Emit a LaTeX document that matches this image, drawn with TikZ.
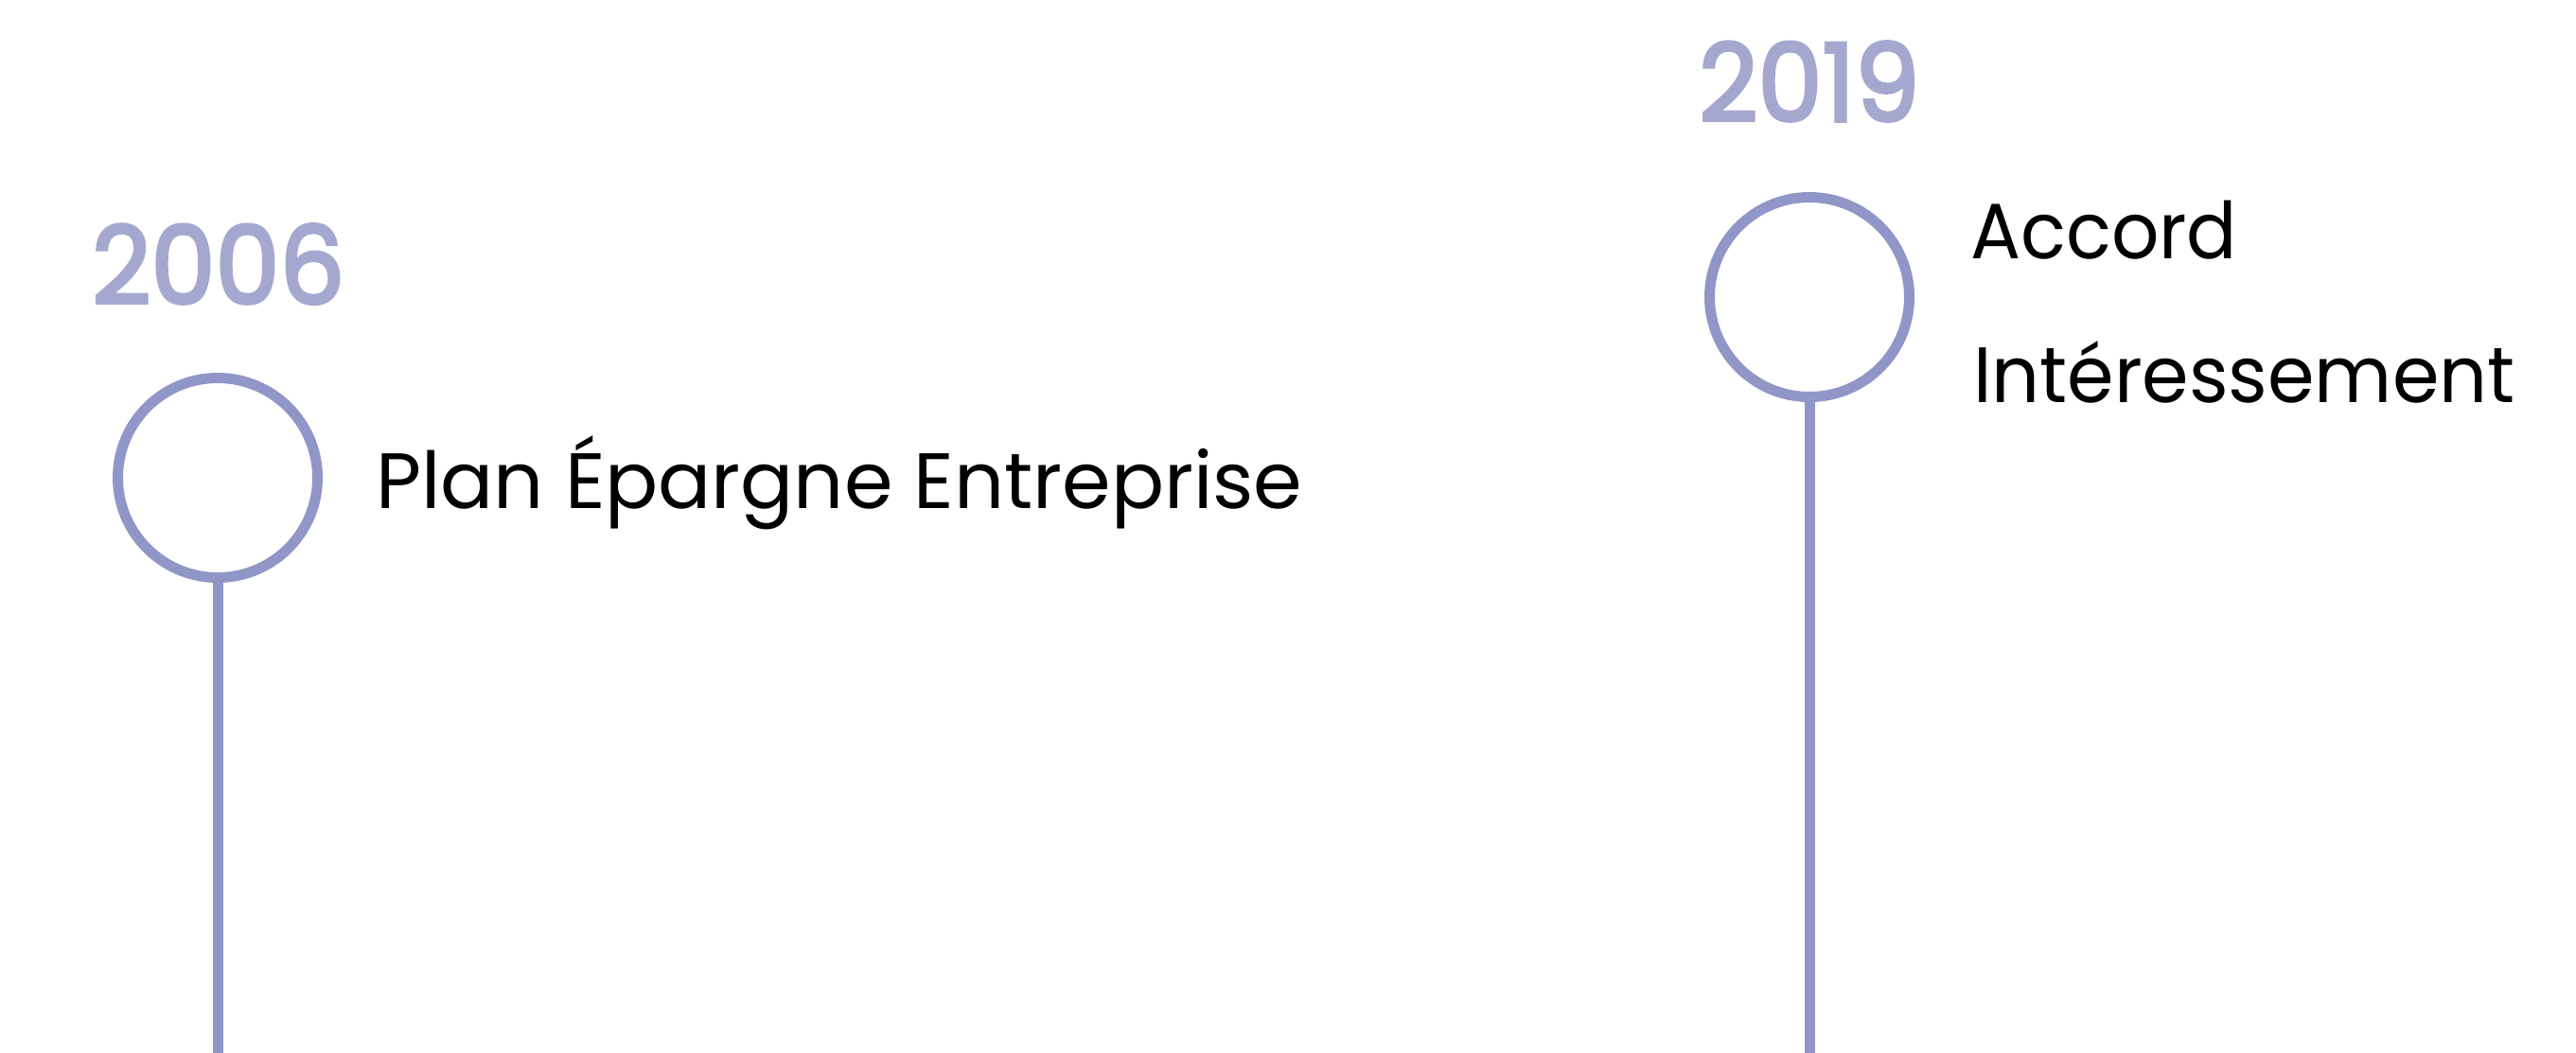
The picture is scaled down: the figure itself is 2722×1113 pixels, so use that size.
\documentclass[tikz,border=0pt]{standalone}
\usepackage{fontspec}
\setmainfont{Poppins}
\newfontfamily\yearfont{Poppins}[FakeBold=3.2]
\definecolor{ring}{HTML}{9196C8}
\definecolor{yearc}{HTML}{A5A8CE}
\begin{document}
\begin{tikzpicture}[x=1pt,y=-1pt,
  ringnode/.style={circle,draw=ring,line width=11pt,minimum size=211pt,inner sep=0pt,fill=white},
  stem/.style={draw=ring,line width=11pt},
  yeartext/.style={anchor=base west,inner sep=0pt,text=yearc,font=\fontsize{114}{130}\yearfont},
  labeltext/.style={anchor=base west,inner sep=0pt,text=black,font=\fontsize{83}{100}\selectfont}]
\useasboundingbox[fill=white] (0,0) rectangle (2722,1113);
\node[ringnode] (c1) at (230,505) {};
\node[ringnode] (c2) at (1912,314) {};
\coordinate (e1) at (230,1113);
\coordinate (e2) at (1912,1113);
\draw[stem] (c1.south) -- (e1);
\draw[stem] (c2.south) -- (e2);
\node[yeartext] (y1) at (97,321) {\scalebox{0.95}[1]{2006}};
\node[yeartext] (y2) at (1795,128) {\scalebox{0.95}[1]{2019}};
\node[labeltext] (t1) at (397,537) {Plan Épargne Entreprise};
\node[labeltext] (t2a) at (2082,273) {\scalebox{0.95}[1]{Accord}};
\node[labeltext] (t2b) at (2085,425) {\scalebox{0.96}[1]{Intéressement}};
\end{tikzpicture}
\end{document}
